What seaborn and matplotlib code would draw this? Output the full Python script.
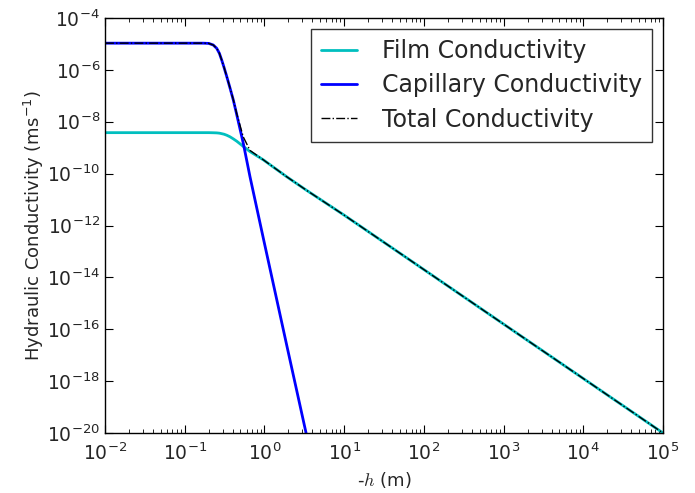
import numpy as np
import pandas as pd
import matplotlib
matplotlib.use('Agg')
import matplotlib.pyplot as plt
from matplotlib.ticker import LogLocator, NullLocator, NullFormatter
import seaborn as sns

# suction head -h (m)
head = [0.01, 0.1, 0.17, 0.2, 0.228, 0.252, 0.272, 0.291, 0.311, 0.337, 0.37,
        0.407, 0.449, 0.543, 0.659, 0.97, 1.9, 3.33, 10, 100, 1e3, 1e4, 1e5]

film_k = [3.8e-9, 3.8e-9, 3.8e-9, 3.8e-9, 3.76e-9, 3.72e-9, 3.63e-9, 3.47e-9,
          3.31e-9, 3.02e-9, 2.63e-9, 2.19e-9, 1.78e-9, 1.12e-9, 7.08e-10,
          3.39e-10, 7.6e-11, 2.34e-11, 2.51e-12, 2.0e-14, 1.58e-16, 1.26e-18, 1e-20]

cap_k = [1.07e-5, 1.07e-5, 1.07e-5, 1.05e-5, 9.1e-6, 6.76e-6, 4.37e-6, 2.4e-6,
         1.26e-6, 5.5e-7, 2.0e-7, 6.9e-8, 1.9e-8, 1.48e-9, 7.6e-11, 3.16e-13,
         2.5e-17, 1e-20, np.nan, np.nan, np.nan, np.nan, np.nan]

df = pd.DataFrame({'h': head, 'film': film_k, 'cap': cap_k})
df['total'] = df['film'] + df['cap'].fillna(0)

sns.set_style('ticks')
plt.rcParams['font.family'] = ['DejaVu Sans']

fig = plt.figure(figsize=(6.95, 4.93), dpi=100)
ax = fig.add_axes([105 / 695, 1 - 433 / 493, (663 - 105) / 695, (433 - 18) / 493])

sns.lineplot(data=df, x='h', y='film', ax=ax, color='#00BFBF', lw=2, label='Film Conductivity')
sns.lineplot(data=df.dropna(), x='h', y='cap', ax=ax, color='#0000FF', lw=2, label='Capillary Conductivity')
sns.lineplot(data=df, x='h', y='total', ax=ax, color='black', lw=1, linestyle='-.', label='Total Conductivity')

ax.set_xscale('log')
ax.set_yscale('log')
ax.set_xlim(1e-2, 1e5)
ax.set_ylim(1e-20, 1e-4)

ax.xaxis.set_major_locator(LogLocator(base=10, numticks=20))
ax.xaxis.set_minor_locator(LogLocator(base=10, subs=np.arange(2, 10), numticks=50))
ax.xaxis.set_minor_formatter(NullFormatter())
ax.set_yticks([10.0 ** p for p in range(-20, -3, 2)])
ax.yaxis.set_minor_locator(NullLocator())

ax.tick_params(which='both', direction='in', top=True, right=True, labelsize=13.5, color='black')
ax.tick_params(which='major', length=6, width=0.8)
ax.tick_params(which='minor', length=3, width=0.6)
ax.tick_params(axis='x', pad=7)
for s in ax.spines.values():
    s.set_color('black')
    s.set_linewidth(1)

ax.set_xlabel('-$h$ (m)', fontsize=13, math_fontfamily='cm')
ax.set_ylabel('Hydraulic Conductivity (ms$^{-1}$)', fontsize=13, labelpad=1)

leg = ax.legend(loc='upper right', fontsize=17, frameon=True, fancybox=False,
                framealpha=1, edgecolor='#333333', handlelength=1.5,
                handletextpad=1.05, labelspacing=0.43, borderpad=0.45,
                borderaxespad=0.45)
leg.get_frame().set_linewidth(1)

fig.savefig('out.png', dpi=100)
